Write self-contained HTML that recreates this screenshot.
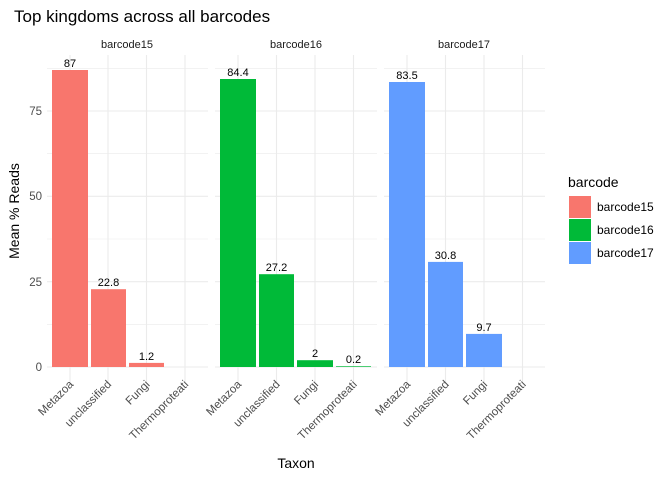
<!DOCTYPE html>
<html><head><style>body{margin:0;background:#fff}svg{display:block;font-family:"Liberation Sans",sans-serif}</style></head><body>
<svg width="672" height="480" xmlns="http://www.w3.org/2000/svg">
<rect width="672" height="480" fill="#fff"/>
<text x="14" y="22" font-size="17" fill="#000">Top kingdoms across all barcodes</text>
<g stroke="#ebebeb" stroke-width="0.6">
<line x1="47" x2="208" y1="324.3" y2="324.3"/><line x1="47" x2="208" y1="239" y2="239"/><line x1="47" x2="208" y1="153.7" y2="153.7"/><line x1="47" x2="208" y1="68.4" y2="68.4"/>
<line x1="215" x2="377" y1="324.3" y2="324.3"/><line x1="215" x2="377" y1="239" y2="239"/><line x1="215" x2="377" y1="153.7" y2="153.7"/><line x1="215" x2="377" y1="68.4" y2="68.4"/>
<line x1="384" x2="545" y1="324.3" y2="324.3"/><line x1="384" x2="545" y1="239" y2="239"/><line x1="384" x2="545" y1="153.7" y2="153.7"/><line x1="384" x2="545" y1="68.4" y2="68.4"/>
</g>
<g stroke="#ebebeb" stroke-width="1.1">
<line x1="47" x2="208" y1="367" y2="367"/><line x1="47" x2="208" y1="281.7" y2="281.7"/><line x1="47" x2="208" y1="196.3" y2="196.3"/><line x1="47" x2="208" y1="111" y2="111"/>
<line x1="215" x2="377" y1="367" y2="367"/><line x1="215" x2="377" y1="281.7" y2="281.7"/><line x1="215" x2="377" y1="196.3" y2="196.3"/><line x1="215" x2="377" y1="111" y2="111"/>
<line x1="384" x2="545" y1="367" y2="367"/><line x1="384" x2="545" y1="281.7" y2="281.7"/><line x1="384" x2="545" y1="196.3" y2="196.3"/><line x1="384" x2="545" y1="111" y2="111"/>
<line x1="70" x2="70" y1="55" y2="382"/><line x1="108" x2="108" y1="55" y2="382"/><line x1="146.5" x2="146.5" y1="55" y2="382"/><line x1="185" x2="185" y1="55" y2="382"/>
<line x1="238" x2="238" y1="55" y2="382"/><line x1="276.5" x2="276.5" y1="55" y2="382"/><line x1="315" x2="315" y1="55" y2="382"/><line x1="353.5" x2="353.5" y1="55" y2="382"/>
<line x1="407" x2="407" y1="55" y2="382"/><line x1="445.5" x2="445.5" y1="55" y2="382"/><line x1="484" x2="484" y1="55" y2="382"/><line x1="522.5" x2="522.5" y1="55" y2="382"/>
</g>
<g font-size="11" fill="#1a1a1a" text-anchor="middle">
<text x="127" y="48">barcode15</text><text x="296" y="48">barcode16</text><text x="464" y="48">barcode17</text>
</g>
<g fill="#F8766D"><rect x="52" y="70" width="36" height="297"/><rect x="91" y="289.2" width="35" height="77.8"/><rect x="129" y="362.9" width="35" height="4.1"/></g>
<g fill="#00BA38"><rect x="220" y="79" width="36" height="288"/><rect x="259" y="274.2" width="35" height="92.8"/><rect x="297" y="360.2" width="36" height="6.8"/><rect x="336" y="366.3" width="35" height="0.7"/></g>
<g fill="#619CFF"><rect x="389" y="82" width="36" height="285"/><rect x="428" y="261.9" width="35" height="105.1"/><rect x="466" y="333.9" width="36" height="33.1"/></g>
<g font-size="11" fill="#000" text-anchor="middle">
<text x="70" y="67">87</text><text x="108.5" y="286">22.8</text><text x="146.5" y="360">1.2</text>
<text x="238" y="76">84.4</text><text x="276.5" y="271">27.2</text><text x="315" y="357">2</text><text x="353.5" y="363">0.2</text>
<text x="407" y="79">83.5</text><text x="445.5" y="259">30.8</text><text x="484" y="331">9.7</text>
</g>
<g font-size="11.5" fill="#4d4d4d" text-anchor="end">
<text x="42" y="371">0</text><text x="42" y="286">25</text><text x="42" y="200">50</text><text x="42" y="115">75</text>
</g>
<g font-size="11.5" fill="#4d4d4d" text-anchor="end">
<text transform="translate(74,385) rotate(-45)">Metazoa</text><text transform="translate(112,385) rotate(-45)">unclassified</text><text transform="translate(150.5,385) rotate(-45)">Fungi</text><text transform="translate(189,385) rotate(-45)">Thermoproteati</text>
<text transform="translate(242,385) rotate(-45)">Metazoa</text><text transform="translate(280.5,385) rotate(-45)">unclassified</text><text transform="translate(319,385) rotate(-45)">Fungi</text><text transform="translate(357.5,385) rotate(-45)">Thermoproteati</text>
<text transform="translate(411,385) rotate(-45)">Metazoa</text><text transform="translate(449.5,385) rotate(-45)">unclassified</text><text transform="translate(488,385) rotate(-45)">Fungi</text><text transform="translate(526.5,385) rotate(-45)">Thermoproteati</text>
</g>
<text x="296" y="468" font-size="14" text-anchor="middle">Taxon</text>
<text transform="translate(19,211) rotate(-90)" font-size="14" text-anchor="middle">Mean % Reads</text>
<text x="568" y="187" font-size="14">barcode</text>
<rect x="569" y="196" width="22" height="22" fill="#F8766D"/><rect x="569" y="219" width="22" height="22" fill="#00BA38"/><rect x="569" y="242" width="22" height="22" fill="#619CFF"/>
<g font-size="12" fill="#000"><text x="597" y="211">barcode15</text><text x="597" y="234">barcode16</text><text x="597" y="257">barcode17</text></g>
</svg>
</body></html>
